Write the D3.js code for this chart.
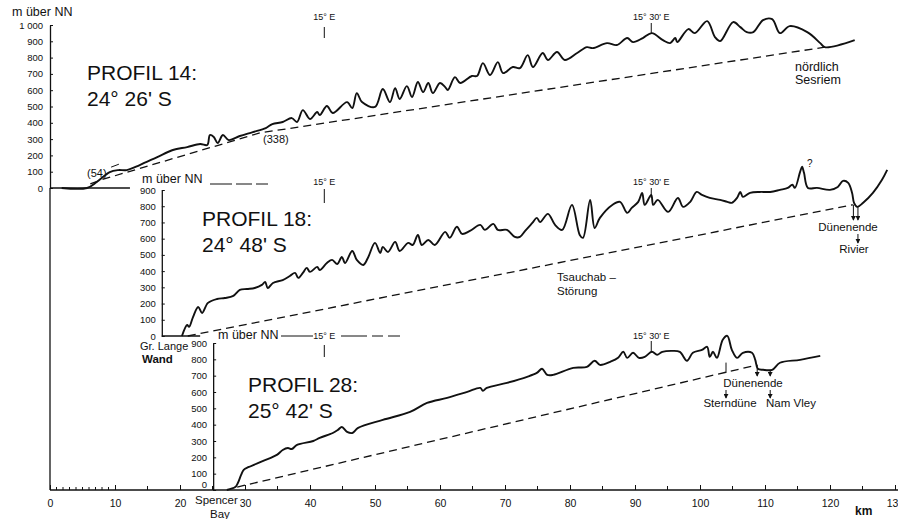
<!DOCTYPE html>
<html>
<head>
<meta charset="utf-8">
<script src="https://cdn.jsdelivr.net/npm/d3@7"></script>
<style>
  body { margin: 0; background: #fff; }
  svg { display: block; }
  text { font-family: "Liberation Sans", Arial, sans-serif; fill: #111; }
</style>
</head>
<body>
<script>
// km along the profile, metres above sea level (m über NN)
const profile14 = [
  [1.8,0],[5.7,0],[7.2,37],[9.2,98],[10.5,110],[11.8,110],[13.8,141],[16.5,190],[18.9,233],[21.1,251],
  [23.1,270],[24.2,264],[24.6,325],[25.2,313],[25.8,276],[26.6,325],[27.5,294],[29.2,319],[31.2,343],
  [33.2,368],[34.2,392],[35.8,405],[37.2,429],[38.0,405],[38.9,478],[40.0,423],[41.1,466],[41.5,447],
  [42.6,503],[43.5,460],[45.7,527],[46.5,490],[47.2,582],[48.0,527],[50.0,497],[51.2,607],[52.3,527],
  [53.1,613],[53.8,546],[54.9,625],[55.7,558],[56.6,650],[57.4,588],[58.2,644],[58.9,582],[60.0,644],
  [60.8,619],[61.2,601],[62.3,680],[63.1,644],[64.9,687],[65.7,687],[66.6,766],[67.7,693],[68.9,772],
  [69.7,705],[71.2,742],[72.3,736],[73.5,815],[74.3,742],[75.8,828],[76.6,785],[78.0,834],[79.2,785],
  [81.1,828],[82.6,864],[83.5,858],[85.7,889],[87.2,877],[88.8,920],[89.7,895],[91.2,920],[92.6,950],
  [94.3,907],[95.4,889],[96.2,920],[96.5,895],[98.2,975],[99.2,950],[101.1,1024],[102.3,926],[103.1,901],
  [105.1,1018],[106.2,987],[107.2,956],[108.2,956],[109.7,1030],[111.1,1036],[112.3,950],[113.8,993],
  [116.5,956],[118.5,889],[119.2,864],[123.8,907]
];
const dashed14 = [[6.2,25],[8.2,54],[32.3,338],[119.2,864]];

const profile18 = [
  [20.3,0],[21.1,68],[21.4,56],[22.0,117],[22.8,179],[23.4,142],[24.3,204],[25.7,228],[26.9,234],
  [28.2,247],[29.2,284],[30.3,290],[31.5,296],[32.6,315],[33.1,333],[33.5,296],[34.3,327],[35.8,345],
  [36.9,370],[37.7,389],[38.2,358],[38.9,389],[39.5,420],[40.0,395],[41.1,426],[41.5,407],[42.6,450],
  [43.4,469],[44.2,444],[44.9,487],[45.4,450],[46.5,524],[47.2,469],[48.2,438],[48.9,481],[50.0,574],
  [50.8,512],[51.2,549],[52.0,518],[53.1,580],[53.8,524],[55.1,574],[55.8,561],[56.6,623],[57.2,561],
  [58.2,592],[59.2,561],[60.8,642],[61.5,605],[62.6,673],[63.4,629],[64.6,648],[66.2,685],[66.9,654],
  [68.2,691],[68.9,654],[70.3,654],[71.5,611],[72.3,611],[73.1,648],[74.2,697],[74.9,728],[75.4,703],
  [76.6,753],[77.7,685],[78.8,654],[80.3,808],[81.5,623],[82.0,605],[83.1,839],[83.8,666],[84.6,728],
  [86.5,808],[87.7,827],[88.8,759],[89.5,790],[90.5,827],[91.1,882],[91.5,808],[92.5,870],[92.8,808],
  [93.5,839],[95.1,765],[96.6,851],[97.4,796],[98.5,827],[99.5,888],[100.3,870],[101.5,851],[103.1,839],
  [104.2,827],[104.9,821],[105.7,851],[106.2,888],[106.6,858],[107.7,882],[109.2,888],[110.8,888],
  [112.3,901],[113.5,913],[114.2,932],[114.6,913],[115.4,1012],[115.7,1043],[116.0,1006],[116.6,913],
  [118.0,913],[120.0,901],[121.2,919],[122.0,956],[122.8,944],[123.4,882],[123.7,821],[124.2,796],
  [125.1,821],[126.6,882],[128.0,963],[128.8,1024]
];
const dashed18 = [[21.2,0],[123.5,809]];

const profile28 = [
  [27.2,0],[28.5,18],[28.9,43],[29.4,92],[29.8,123],[30.6,141],[32.8,178],[34.9,215],[35.8,245],
  [36.6,257],[37.2,251],[38.0,276],[40.5,300],[41.5,319],[43.5,349],[44.3,368],[44.9,386],[45.7,356],
  [46.5,349],[47.4,380],[51.2,429],[55.4,478],[58.0,533],[61.1,564],[64.2,601],[66.2,625],[66.6,607],
  [67.2,625],[70.3,656],[73.4,693],[74.9,717],[75.7,742],[76.5,705],[77.4,705],[80.5,748],[82.6,754],
  [83.8,791],[84.6,766],[86.2,785],[87.4,809],[88.2,846],[88.8,809],[89.7,840],[90.6,809],[91.5,815],
  [92.6,846],[93.4,828],[94.2,846],[95.7,852],[96.9,846],[98.0,791],[98.9,840],[100.3,858],[101.1,877],
  [101.5,815],[102.0,846],[102.6,809],[103.5,920],[104.2,944],[104.9,858],[105.7,809],[106.6,840],
  [108.0,840],[108.5,797],[108.9,742],[109.7,736],[111.1,736],[112.3,779],[115.4,797],[118.5,821]
];
const dashed28 = [[28.8,18],[108.8,766]];

const ticks14 = d3.range(0, 1001, 100);
const ticks900 = d3.range(0, 901, 100);
const kmMajor = d3.range(0, 131, 10);
const kmMinor = d3.range(1, 10).concat(d3.range(15, 130, 10));
const lon15 = 42.2, lon1530 = 92.5;

const svg = d3.select("body").append("svg")
  .attr("width", 898).attr("height", 519)
  .style("background", "#fff");

const x = d3.scaleLinear().domain([0, 130]).range([50, 895]);
const y14 = d3.scaleLinear().domain([0, 1000]).range([188, 25]);
const y18 = d3.scaleLinear().domain([0, 900]).range([336, 190]);
const y28 = d3.scaleLinear().domain([0, 900]).range([490, 343]);

const line = y => d3.line().x(d => x(d[0])).y(d => y(d[1])).curve(d3.curveCatmullRom.alpha(0.5));
const straight = y => d3.line().x(d => x(d[0])).y(d => y(d[1]));

svg.append("defs").append("marker")
  .attr("id", "arr").attr("viewBox", "0 0 6 6").attr("refX", 5).attr("refY", 3)
  .attr("markerWidth", 5).attr("markerHeight", 5).attr("orient", "auto")
  .append("path").attr("d", "M0,0L6,3L0,6Z").attr("fill", "#111");

// y axes
function yAxis(scale, km, vals, pad) {
  const g = svg.append("g").attr("transform", `translate(${x(km)},0)`)
    .call(d3.axisLeft(scale).tickValues(vals).tickSize(-3).tickSizeOuter(0).tickPadding(pad)
      .tickFormat(d => d === 1000 ? "1 000" : d));
  g.select(".domain").attr("stroke", "#111").attr("stroke-width", 1.3);
  g.selectAll(".tick line").attr("stroke", "#111");
  g.selectAll("text").style("font-size", "9.5px").style("font-family", "Liberation Sans, Arial, sans-serif");
  return g;
}
yAxis(y14, 0, ticks14, 7);
yAxis(y18, 17.2, ticks900, 6);
const a28 = yAxis(y28, 25.1, ticks900, 6);
a28.selectAll(".tick").filter(d => d === 0).select("text").attr("dy", "-0.3em");

// long left axis of profile 14 down to the km axis and the zero lines
svg.append("line").attr("x1", x(0)).attr("x2", x(0)).attr("y1", y14(0)).attr("y2", y28(0))
  .attr("stroke", "#111").attr("stroke-width", 1.3);
svg.append("line").attr("x1", x(0)).attr("x2", x(12.3)).attr("y1", y14(0)).attr("y2", y14(0))
  .attr("stroke", "#111").attr("stroke-width", 1.3);
svg.append("line").attr("x1", x(17.2)).attr("x2", x(23.1)).attr("y1", y18(0)).attr("y2", y18(0))
  .attr("stroke", "#111").attr("stroke-width", 1.3);

// km axis
const ax = svg.append("g").attr("transform", `translate(0,${y28(0)})`)
  .call(d3.axisBottom(x).tickValues(kmMajor).tickSize(-5).tickSizeOuter(0).tickPadding(10));
ax.select(".domain").attr("stroke", "#111").attr("stroke-width", 1.3).attr("d", `M${x(0)},0H898`);
ax.selectAll(".tick line").attr("stroke", "#111");
ax.selectAll("text").style("font-size", "10.5px").style("font-family", "Liberation Sans, Arial, sans-serif");
ax.selectAll(".minor").data(kmMinor).enter().append("line")
  .attr("x1", d => x(d)).attr("x2", d => x(d)).attr("y1", 0).attr("y2", d => d < 10 ? -3 : -4)
  .attr("stroke", "#111");

// profiles
[[profile14, dashed14, y14], [profile18, dashed18, y18], [profile28, dashed28, y28]].forEach(([p, dsh, y]) => {
  svg.append("path").attr("d", straight(y)(dsh)).attr("fill", "none")
    .attr("stroke", "#111").attr("stroke-width", 1.3).attr("stroke-dasharray", "8,5");
  svg.append("path").attr("d", line(y)(p)).attr("fill", "none")
    .attr("stroke", "#111").attr("stroke-width", 1.9).attr("stroke-linejoin", "round");
});

// longitude marks
function lonMark(km, y0, y1, label, ly) {
  svg.append("line").attr("x1", x(km)).attr("x2", x(km)).attr("y1", y0).attr("y2", y1)
    .attr("stroke", "#111").attr("stroke-width", 1);
  svg.append("text").attr("x", x(km)).attr("y", ly).attr("text-anchor", "middle")
    .style("font-size", "9px").text(label);
}
lonMark(lon15, 27, 38, "15° E", 20);
lonMark(lon1530, 23, 33, "15° 30' E", 20);
lonMark(lon15, 189, 203, "15° E", 185);
lonMark(lon1530, 188, 198, "15° 30' E", 185);
lonMark(lon15, 345, 357, "15° E", 339);
lonMark(lon1530, 341, 352, "15° 30' E", 339);

// units labels
const txt = (tx, ty, s, size, anchor) => svg.append("text").attr("x", tx).attr("y", ty)
  .attr("text-anchor", anchor || "start").style("font-size", size + "px").text(s);
txt(12, 16, "m über NN", 12.5);
txt(142, 183, "m über NN", 12.5);
txt(218, 339, "m über NN", 12.5);
svg.append("line").attr("x1", 210).attr("x2", 268).attr("y1", 184).attr("y2", 184)
  .attr("stroke", "#111").attr("stroke-width", 1).attr("stroke-dasharray", "22,4,16,4,14");
svg.append("line").attr("x1", 281).attr("x2", 313).attr("y1", 336).attr("y2", 336)
  .attr("stroke", "#111").attr("stroke-width", 1);
svg.append("line").attr("x1", 341).attr("x2", 400).attr("y1", 336).attr("y2", 336)
  .attr("stroke", "#111").attr("stroke-width", 1).attr("stroke-dasharray", "26,5,11,5,12");

// titles
txt(87, 80, "PROFIL 14:", 21);
txt(87, 106, "24° 26' S", 21);
txt(202, 226, "PROFIL 18:", 21);
txt(202, 252, "24° 48' S", 21);
txt(248, 392, "PROFIL 28:", 21);
txt(248, 418, "25° 42' S", 21);

// annotations
txt(87, 177, "(54)", 11);
svg.append("path").attr("d", straight(y14)([[9.4, 128], [10.6, 146]]))
  .attr("stroke", "#111").attr("stroke-width", 1);
txt(263, 143, "(338)", 11);
txt(795, 71, "nördlich", 12.5);
txt(795, 84, "Sesriem", 12.5);
txt(807, 167, "?", 10);
txt(557, 281, "Tsauchab –", 11.5);
txt(557, 295, "Störung", 11.5);
txt(140, 350, "Gr. Lange", 11);
txt(142, 363, "Wand", 11.5).style("font-weight", "bold");
txt(195, 504, "Spencer", 11.5);
txt(210, 518, "Bay", 11.5);
txt(855, 515, "km", 12).style("font-weight", "bold");

function arrow(km, ya, yb, head) {
  const l = svg.append("line").attr("x1", x(km)).attr("x2", x(km)).attr("y1", ya).attr("y2", yb)
    .attr("stroke", "#111").attr("stroke-width", 1);
  if (head) l.attr("marker-end", "url(#arr)");
}
// profile 18
arrow(123.6, y18(809), 220, true);
arrow(124.3, y18(800), 220, true);
txt(848, 231, "Dünenende", 11.5, "middle");
arrow(124.3, 234, 243, true);
txt(854, 253, "Rivier", 11.5, "middle");
// profile 28
arrow(104.0, y28(780), 373, false);
arrow(108.8, y28(766), 376, true);
arrow(110.8, y28(736), 376, true);
txt(753, 387, "Dünenende", 11.5, "middle");
arrow(104.0, 390, 398, true);
arrow(110.8, 390, 398, true);
txt(730, 407, "Sterndüne", 11.5, "middle");
txt(791, 407, "Nam Vley", 11.5, "middle");
</script>
</body>
</html>
